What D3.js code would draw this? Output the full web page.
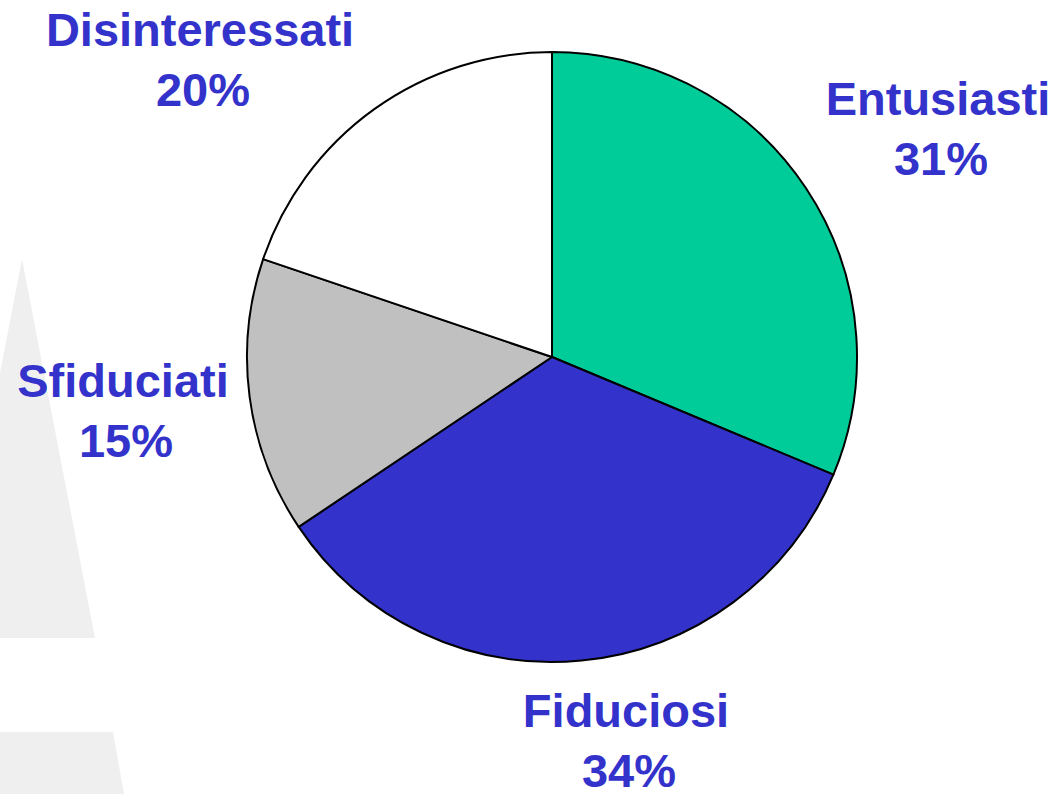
<!DOCTYPE html>
<html>
<head>
<meta charset="utf-8">
<script src="https://cdn.jsdelivr.net/npm/d3@7"></script>
<style>
  html, body { margin: 0; padding: 0; background: #fff; }
  svg { display: block; }
</style>
</head>
<body>
<svg></svg>
<script>
// slices, clockwise from 12 o'clock
const categories = ['Entusiasti', 'Fiduciosi', 'Sfiduciati', 'Disinteressati']
const shares = [31.3, 34.3, 14.6, 19.8]
const percentLabels = ['31%', '34%', '15%', '20%']
const sliceColors = ['#00cc99', '#3333cc', '#c0c0c0', '#ffffff']

// where each label block sits (centre x, first baseline y)
const labelLayout = [
  [938, 115],
  [626, 727],
  [123, 397],
  [200, 46]
]

const width = 1056
const height = 794
const cx = 552
const cy = 357
const radius = 305

const svg = d3.select('svg')
  .attr('width', width)
  .attr('height', height)

// faint background logo shapes on the left
const bg = svg.append('g').attr('fill', '#efefef')
bg.append('polygon').attr('points', '0,373 22,259 95,638 0,638')
bg.append('polygon').attr('points', '0,732 113,732 124,794 0,794')

const pie = d3.pie().sort(null).value(d => d)
const arc = d3.arc().innerRadius(0).outerRadius(radius)

const colorScale = d3.scaleOrdinal()
  .domain(categories)
  .range(sliceColors)

const arcs = pie(shares).map((d, i) => ({ ...d, name: categories[i] }))

svg.append('g')
  .attr('transform', `translate(${cx}, ${cy})`)
  .selectAll('path')
  .data(arcs)
  .join('path')
    .attr('d', arc)
    .attr('fill', d => colorScale(d.name))
    .attr('stroke', '#000')
    .attr('stroke-width', 2)
    .attr('stroke-linejoin', 'round')

const labels = svg.append('g')
  .attr('font-family', 'Arial, "Liberation Sans", sans-serif')
  .attr('font-weight', 'bold')
  .attr('font-size', '47px')
  .attr('fill', '#3333cc')
  .attr('text-anchor', 'middle')
  .selectAll('text')
  .data(categories)
  .join('text')
    .attr('transform', (_, i) => `translate(${labelLayout[i][0]}, ${labelLayout[i][1]})`)

labels.append('tspan')
  .attr('x', 0)
  .attr('y', 0)
  .text(d => d)

labels.append('tspan')
  .attr('x', 3)
  .attr('y', 60)
  .text((_, i) => percentLabels[i])
</script>
</body>
</html>
